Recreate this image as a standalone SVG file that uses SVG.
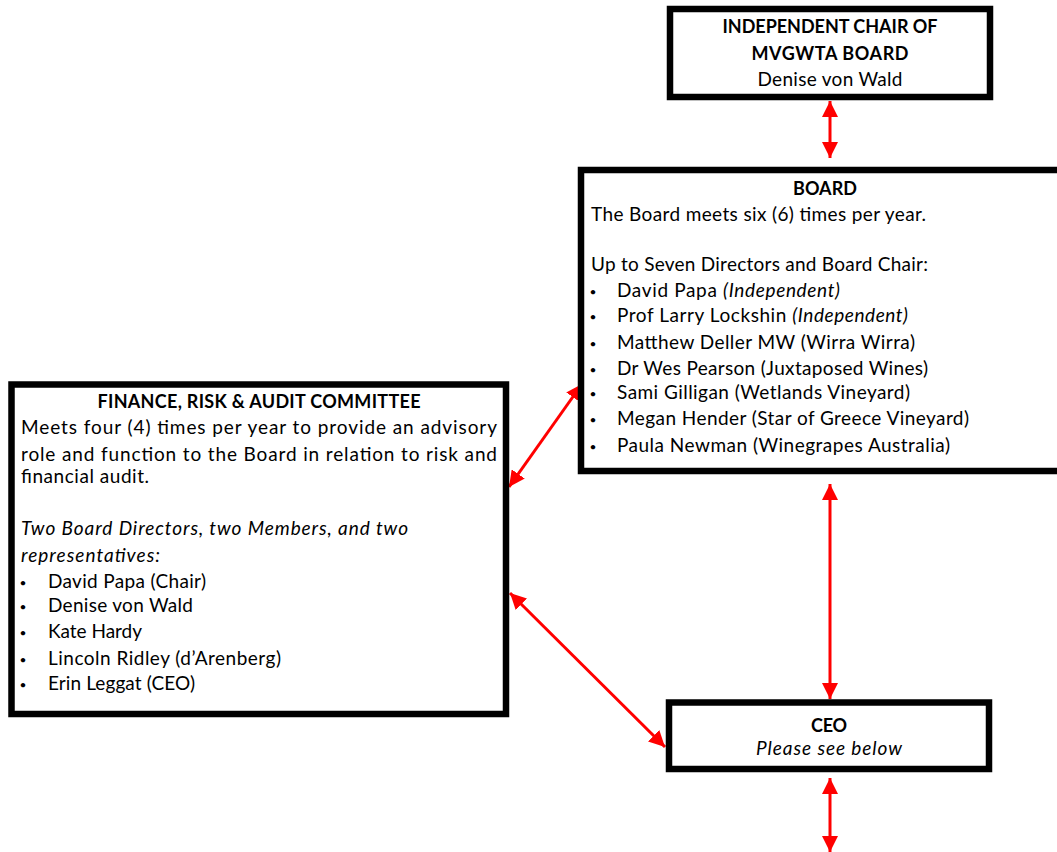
<svg xmlns="http://www.w3.org/2000/svg" width="1057" height="852" viewBox="0 0 1057 852">
<style>
.box{fill:#fff;stroke:#000;stroke-width:6.5}
text{font-family:Lato,"Open Sans","Liberation Sans",sans-serif;font-size:19px;fill:#000}
.b{font-weight:bold;font-size:18px}
.c{text-anchor:middle}
.i{font-style:italic}
.bul{font-size:12px}
.con{stroke:#f00;stroke-width:3;fill:none;marker-start:url(#ah);marker-end:url(#ah)}
</style>
<defs>
<marker id="ah" markerUnits="userSpaceOnUse" markerWidth="16" markerHeight="16" viewBox="0 0 16 16" refX="16" refY="8" orient="auto-start-reverse">
<path d="M0,0 L16,8 L0,16 z" fill="#f00"/>
</marker>
</defs>
<rect width="1057" height="852" fill="#fff"/>
<g id="connectors">
<line class="con" x1="830" y1="101" x2="830" y2="158"/>
<line class="con" x1="830" y1="484" x2="830" y2="699"/>
<line class="con" x1="830" y1="778" x2="830" y2="852"/>
<line class="con" x1="582" y1="384" x2="509" y2="487"/>
<line class="con" x1="510" y1="593" x2="665" y2="747"/>
</g>
<g id="chair">
<rect class="box" x="670" y="9" width="320" height="88"/>
<text class="b c" x="830" y="33" textLength="215">INDEPENDENT CHAIR OF</text>
<text class="b c" x="830" y="60" textLength="157">MVGWTA BOARD</text>
<text class="c" x="830" y="86" textLength="145">Denise von Wald</text>
</g>
<g id="board">
<rect class="box" x="581" y="170" width="500" height="301"/>
<text class="b c" x="825" y="195" textLength="64">BOARD</text>
<text x="591" y="221" textLength="335">The Board meets six (6) times per year.</text>
<text x="591" y="271" textLength="337">Up to Seven Directors and Board Chair:</text>
<text class="bul c" x="593" y="296">•</text>
<text x="617" y="297" textLength="223">David Papa <tspan class="i">(Independent)</tspan></text>
<text class="bul c" x="593" y="321">•</text>
<text x="617" y="322" textLength="291">Prof Larry Lockshin <tspan class="i">(Independent)</tspan></text>
<text class="bul c" x="593" y="348">•</text>
<text x="617" y="349" textLength="298">Matthew Deller MW (Wirra Wirra)</text>
<text class="bul c" x="593" y="374">•</text>
<text x="617" y="375" textLength="311">Dr Wes Pearson (Juxtaposed Wines)</text>
<text class="bul c" x="593" y="398">•</text>
<text x="617" y="399" textLength="293">Sami Gilligan (Wetlands Vineyard)</text>
<text class="bul c" x="593" y="424">•</text>
<text x="617" y="425" textLength="352">Megan Hender (Star of Greece Vineyard)</text>
<text class="bul c" x="593" y="451">•</text>
<text x="617" y="452" textLength="333">Paula Newman (Winegrapes Australia)</text>
</g>
<g id="finance">
<rect class="box" x="11.5" y="384.5" width="494.5" height="329.5"/>
<text class="b c" x="259" y="408" textLength="323">FINANCE, RISK &amp; AUDIT COMMITTEE</text>
<text x="21" y="434" textLength="476">Meets four (4) times per year to provide an advisory</text>
<text x="21" y="461" textLength="476">role and function to the Board in relation to risk and</text>
<text x="21" y="483" textLength="128">financial audit.</text>
<text class="i" x="21" y="535" textLength="387">Two Board Directors, two Members, and two</text>
<text class="i" x="21" y="562" textLength="139">representatives:</text>
<text class="bul c" x="23" y="587">•</text>
<text x="48" y="588" textLength="158">David Papa (Chair)</text>
<text class="bul c" x="23" y="611">•</text>
<text x="48" y="612" textLength="145">Denise von Wald</text>
<text class="bul c" x="23" y="637">•</text>
<text x="48" y="638" textLength="94">Kate Hardy</text>
<text class="bul c" x="23" y="664">•</text>
<text x="48" y="665" textLength="233">Lincoln Ridley (d’Arenberg)</text>
<text class="bul c" x="23" y="689">•</text>
<text x="48" y="690" textLength="147">Erin Leggat (CEO)</text>
</g>
<g id="ceo">
<rect class="box" x="669" y="702.5" width="320" height="66.5"/>
<text class="b c" x="829" y="732" textLength="36">CEO</text>
<text class="i c" x="829" y="755" textLength="146">Please see below</text>
</g>
</svg>
